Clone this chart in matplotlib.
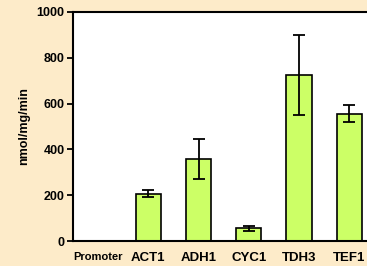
import matplotlib.pyplot as plt

labels = ['Promoter', 'ACT1', 'ADH1', 'CYC1', 'TDH3', 'TEF1']
values = [0, 207, 358, 55, 725, 555]
errors = [0, 15, 87, 10, 175, 37]

plt.rcParams['font.family'] = ['Liberation Sans', 'DejaVu Sans']

fig = plt.figure(figsize=(3.67, 2.66), dpi=100, facecolor='#FDEBC9')
ax = fig.add_axes([73 / 367, 25 / 266, 1.0 - 73 / 367 + 0.02, 229 / 266])
ax.set_facecolor('white')

pos = list(range(len(labels)))
ax.bar(pos[1:], values[1:], width=0.5, color='#CCFF66', edgecolor='black', linewidth=1.2, zorder=2)
ax.errorbar(pos[1:], values[1:], yerr=errors[1:], fmt='none', ecolor='black',
            elinewidth=1.3, capsize=4.3, capthick=1.3, zorder=3)

ax.set_xlim(-0.5, 5.5)
ax.set_ylim(0, 1000)
ax.set_yticks([0, 200, 400, 600, 800, 1000])
ax.set_xticks(pos)
ax.set_xticklabels(labels, fontweight='bold', fontsize=9.5)
ax.get_xticklabels()[0].set_fontsize(8)
for t in ax.get_yticklabels():
    t.set_fontweight('bold')
    t.set_fontsize(9)
ax.tick_params(axis='x', length=0, pad=8)
ax.tick_params(axis='y', length=4.5, width=1.3, pad=1.5)
ax.set_ylabel('nmol/mg/min', fontweight='bold', fontsize=9, labelpad=5)
for s in ['left', 'bottom', 'top']:
    ax.spines[s].set_linewidth(1.5)
ax.spines['right'].set_visible(False)

fig.savefig('out.png', dpi=100, facecolor=fig.get_facecolor())
